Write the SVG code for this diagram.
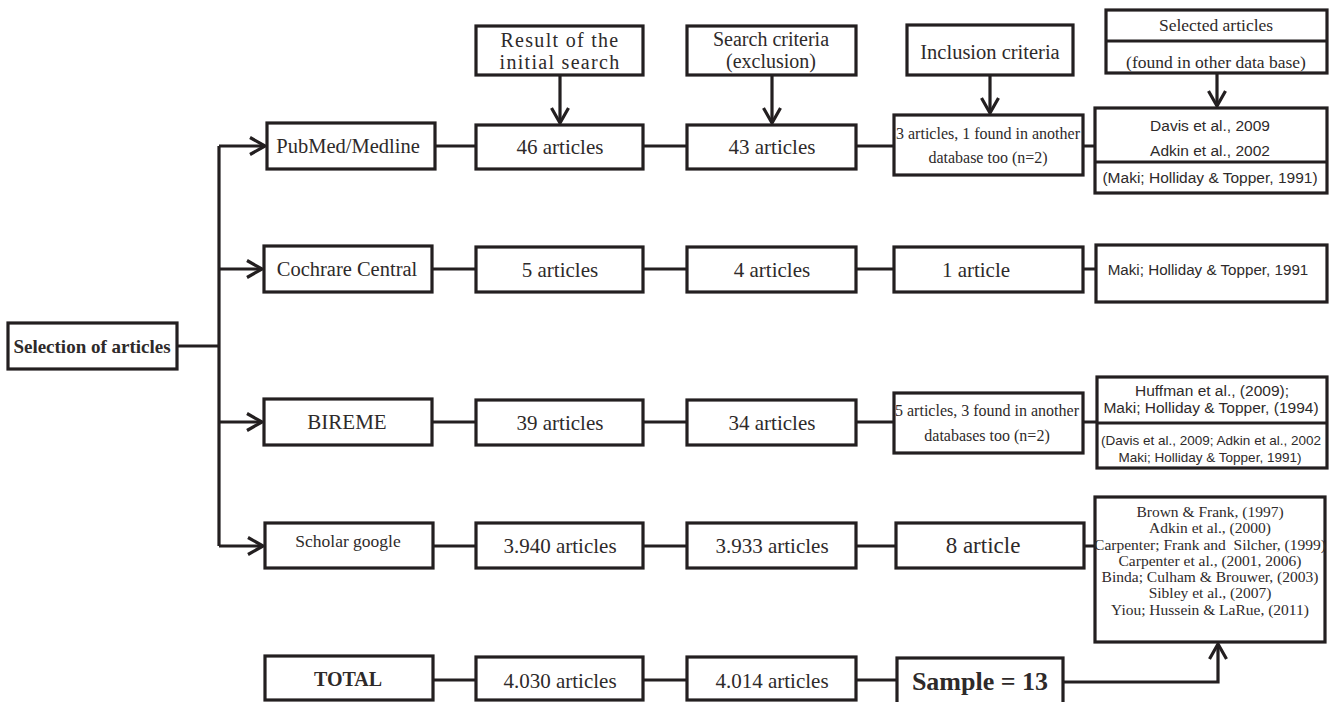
<svg xmlns="http://www.w3.org/2000/svg" width="1333" height="702" viewBox="0 0 1333 702">
<defs>
<style>
.box{fill:#fff;stroke:#231f20;stroke-width:3.2}
.ln{fill:none;stroke:#231f20;stroke-width:3.2}
.s{font-family:"Liberation Serif","Times New Roman",serif;fill:#2e2a2a;text-anchor:middle}
.a{font-family:"Liberation Sans",Arial,sans-serif;fill:#2e2a2a;text-anchor:middle}
.b{font-weight:bold}
.n{font-size:21px}
</style>
<marker id="ah" viewBox="0 0 20 20" markerWidth="20" markerHeight="20" refX="18" refY="10" orient="auto" markerUnits="userSpaceOnUse">
<path d="M3,1.5 L18,10 L3,18.5" fill="none" stroke="#231f20" stroke-width="3.2"/>
</marker>
</defs>
<rect width="1333" height="702" fill="#fff"/>

<g id="connectors">
<path class="ln" d="M177,346 H219"/>
<path class="ln" d="M219,146 V546"/>
<path class="ln" d="M219,146 H265" marker-end="url(#ah)"/>
<path class="ln" d="M219,269 H262" marker-end="url(#ah)"/>
<path class="ln" d="M219,422 H262" marker-end="url(#ah)"/>
<path class="ln" d="M219,546 H263" marker-end="url(#ah)"/>
<path class="ln" d="M560,75 V123" marker-end="url(#ah)"/>
<path class="ln" d="M772,75 V123" marker-end="url(#ah)"/>
<path class="ln" d="M990,75 V113" marker-end="url(#ah)"/>
<path class="ln" d="M1217,73 V106" marker-end="url(#ah)"/>
<path class="ln" d="M435,146 H476 M643,146 H687 M856,146 H894 M1083,146 H1095"/>
<path class="ln" d="M432,269 H476 M643,269 H687 M856,269 H894 M1083,269 H1096"/>
<path class="ln" d="M432,422 H476 M643,422 H687 M856,422 H894 M1083,422 H1097"/>
<path class="ln" d="M433,546 H476 M643,546 H687 M856,546 H896 M1084,546 H1095"/>
<path class="ln" d="M433,680 H476 M643,680 H687 M856,680 H897"/>
<path class="ln" d="M1063,682 H1218 V644" marker-end="url(#ah)"/>
</g>

<g id="selection"><rect class="box" x="8" y="323" width="169" height="46"/><text class="s b" x="92" y="353" font-size="19">Selection of articles</text></g>

<g id="pubmed"><rect class="box" x="267" y="123" width="168" height="46"/><text class="s" x="348" y="153" font-size="20.5">PubMed/Medline</text></g>
<g id="cochrane"><rect class="box" x="264" y="246" width="168" height="46"/><text class="s" x="347" y="276" font-size="20.5">Cochrare Central</text></g>
<g id="bireme"><rect class="box" x="264" y="399" width="168" height="46"/><text class="s" x="347" y="429" font-size="21">BIREME</text></g>
<g id="scholar"><rect class="box" x="265" y="523" width="168" height="45"/><text class="s" x="348" y="547" font-size="17.5">Scholar google</text></g>
<g id="total"><rect class="box" x="265" y="656" width="168" height="44"/><text class="s b" x="348" y="686" font-size="20">TOTAL</text></g>

<g id="result-head"><rect class="box" x="476" y="26" width="167" height="49"/><text class="s" x="560" y="47" font-size="20" letter-spacing="1.3">Result of the</text><text class="s" x="560" y="69" font-size="20" letter-spacing="1.3">initial search</text></g>
<g id="search-head"><rect class="box" x="687" y="26" width="169" height="49"/><text class="s" x="771" y="46" font-size="20">Search criteria</text><text class="s" x="771" y="68" font-size="20">(exclusion)</text></g>
<g id="inclusion-head"><rect class="box" x="907" y="25" width="166" height="50"/><text class="s" x="990" y="59" font-size="20.5">Inclusion criteria</text></g>
<g id="selected-head"><rect class="box" x="1106" y="10" width="221" height="63"/><path class="ln" d="M1106,41 H1327"/><text class="s" x="1216" y="31" font-size="17.5">Selected articles</text><text class="s" x="1216" y="68" font-size="17.5">(found in other data base)</text></g>

<g id="r1c1"><rect class="box" x="476" y="125" width="167" height="44"/><text class="s n" x="560" y="154">46 articles</text></g>
<g id="r1c2"><rect class="box" x="687" y="125" width="169" height="44"/><text class="s n" x="772" y="154">43 articles</text></g>
<g id="r1c3"><rect class="box" x="894" y="115" width="189" height="60"/><text class="s" x="988" y="139" font-size="16">3 articles, 1 found in another</text><text class="s" x="988" y="163" font-size="16">database too (n=2)</text></g>
<g id="r1c4"><rect class="box" x="1095" y="108" width="232" height="85"/><path class="ln" d="M1095,162 H1327"/><text class="a" x="1210" y="131" font-size="15.5">Davis et al., 2009</text><text class="a" x="1210" y="156" font-size="15.5">Adkin et al., 2002</text><text class="a" x="1210" y="183" font-size="15.5">(Maki; Holliday &amp; Topper, 1991)</text></g>

<g id="r2c1"><rect class="box" x="476" y="247" width="167" height="45"/><text class="s n" x="560" y="277">5 articles</text></g>
<g id="r2c2"><rect class="box" x="687" y="247" width="169" height="45"/><text class="s n" x="772" y="277">4 articles</text></g>
<g id="r2c3"><rect class="box" x="894" y="247" width="189" height="45"/><text class="s n" x="976" y="277">1 article</text></g>
<g id="r2c4"><rect class="box" x="1096" y="245" width="231" height="57"/><text class="a" x="1208" y="275" font-size="15.2">Maki; Holliday &amp; Topper, 1991</text></g>

<g id="r3c1"><rect class="box" x="476" y="400" width="167" height="45"/><text class="s n" x="560" y="430">39 articles</text></g>
<g id="r3c2"><rect class="box" x="687" y="400" width="169" height="45"/><text class="s n" x="772" y="430">34 articles</text></g>
<g id="r3c3"><rect class="box" x="894" y="393" width="189" height="60"/><text class="s" x="987" y="416" font-size="16">5 articles, 3 found in another</text><text class="s" x="987" y="441" font-size="16">databases too (n=2)</text></g>
<g id="r3c4"><rect class="box" x="1097" y="377" width="230" height="91"/><path class="ln" d="M1097,423 H1327"/><text class="a" x="1212" y="396" font-size="15.5">Huffman et al., (2009);</text><text class="a" x="1211" y="413" font-size="15.5">Maki; Holliday &amp; Topper, (1994)</text><text class="a" x="1211" y="445" font-size="13.5">(Davis et al., 2009; Adkin et al., 2002</text><text class="a" x="1210" y="462" font-size="13.5">Maki; Holliday &amp; Topper, 1991)</text></g>

<g id="r4c1"><rect class="box" x="476" y="523" width="167" height="45"/><text class="s n" x="560" y="553">3.940 articles</text></g>
<g id="r4c2"><rect class="box" x="687" y="523" width="169" height="45"/><text class="s n" x="772" y="553">3.933 articles</text></g>
<g id="r4c3"><rect class="box" x="896" y="523" width="188" height="45"/><text class="s" x="983" y="553" font-size="23">8 article</text></g>
<g id="r4c4"><rect class="box" x="1095" y="497" width="230" height="145"/>
<text class="s" font-size="15.5" xml:space="preserve"><tspan x="1210" y="517">Brown &amp; Frank, (1997)</tspan><tspan x="1210" y="533">Adkin et al., (2000)</tspan><tspan x="1210" y="550">Carpenter; Frank and  Silcher, (1999)</tspan><tspan x="1210" y="566">Carpenter et al., (2001, 2006)</tspan><tspan x="1210" y="582">Binda; Culham &amp; Brouwer, (2003)</tspan><tspan x="1210" y="598">Sibley et al., (2007)</tspan><tspan x="1210" y="615">Yiou; Hussein &amp; LaRue, (2011)</tspan></text></g>

<g id="t1"><rect class="box" x="476" y="657" width="167" height="43"/><text class="s n" x="560" y="688">4.030 articles</text></g>
<g id="t2"><rect class="box" x="687" y="657" width="169" height="43"/><text class="s n" x="772" y="688">4.014 articles</text></g>
<g id="sample"><rect class="box" x="897" y="658" width="166" height="46"/><text class="s b" x="980" y="690" font-size="26">Sample = 13</text></g>
</svg>
